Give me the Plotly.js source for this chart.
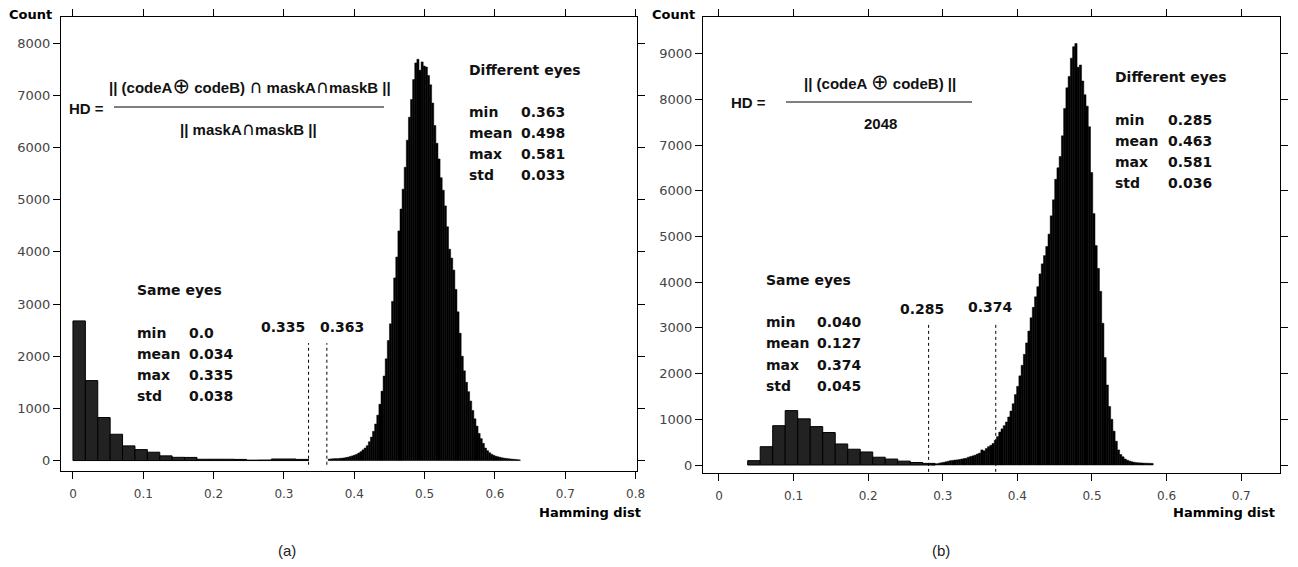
<!DOCTYPE html>
<html>
<head>
<meta charset="utf-8">
<script src="https://cdn.plot.ly/plotly-3.0.1.min.js"></script>
<style>html,body{margin:0;padding:0;background:#fff;}#chart{width:1298px;height:567px;}</style>
</head>
<body>
<div id="chart"></div>
<script>
// ---------------- DATA ----------------
// Panel (a): same eyes histogram (19 bins from 0)
const sameA_start = 0.0;
const sameA_binWidth = 0.01763;
const sameA_counts = [2676, 1532, 824, 504, 281, 210, 160, 90, 62, 60, 25, 25, 25, 22, 8, 10, 30, 30, 22];

// Panel (a): different eyes histogram (fine bins from 0.363)
const diffA_start = 0.363;
const diffA_binWidth = 0.003;
const diffA_counts = [28, 32, 35, 38, 36, 42, 45, 50, 58, 66, 78, 90, 105, 120, 145, 170, 205, 240, 285, 360,
  450, 560, 700, 870, 1080, 1330, 1620, 1950, 2300, 2620, 3050, 3500, 3900, 4400, 4820, 5200, 5620, 6140, 6580, 6920,
  7300, 7620, 7690, 7480, 7640, 7560, 7540, 7380, 7200, 6850, 6420, 6080, 5780, 5420, 5180, 4880, 4480, 4050, 3880, 3650,
  3280, 2850, 2440, 2000, 1720, 1500, 1320, 1140, 960, 800, 660, 520, 420, 330, 240, 190, 150, 120, 100, 82,
  72, 62, 52, 45, 40, 35, 30, 26, 22, 18, 14];

// Panel (b): same eyes histogram (15 bins from 0.0385)
const sameB_start = 0.0385;
const sameB_binWidth = 0.01676;
const sameB_counts = [95, 400, 860, 1190, 1010, 840, 710, 460, 345, 285, 170, 130, 85, 55, 35];

// Panel (b): different eyes histogram (fine bins from 0.285)
const diffB_start = 0.285;
const diffB_binWidth = 0.003;
const diffB_counts = [15, 20, 28, 40, 50, 58, 70, 82, 95, 100, 108, 112, 120, 130, 140, 148, 170, 185, 200, 215,
  240, 260, 330, 310, 360, 400, 430, 470, 540, 620, 720, 790, 860, 940, 1050, 1180, 1340, 1540, 1720, 1950,
  2180, 2420, 2670, 2930, 3220, 3450, 3680, 3900, 4180, 4400, 4580, 4780, 5050, 5450, 5800, 6250, 6500, 6750, 7200, 7800,
  8250, 8500, 8900, 9150, 9220, 8700, 8750, 8400, 8100, 7850, 7400, 6400, 5500, 4800, 4300, 3800, 3100, 2350, 1750, 1280,
  1000, 740, 520, 330, 230, 180, 130, 105, 85, 70, 60, 52, 48, 45, 42, 40, 38, 36, 35];

// Axis ticks
const xTicksA = [0, 0.1, 0.2, 0.3, 0.4, 0.5, 0.6, 0.7, 0.8];
const xTickTextA = ['0', '0.1', '0.2', '0.3', '0.4', '0.5', '0.6', '0.7', '0.8'];
const yTicksA = [0, 1000, 2000, 3000, 4000, 5000, 6000, 7000, 8000];
const xTicksB = [0, 0.1, 0.2, 0.3, 0.4, 0.5, 0.6, 0.7];
const xTickTextB = ['0', '0.1', '0.2', '0.3', '0.4', '0.5', '0.6', '0.7'];
const yTicksB = [0, 1000, 2000, 3000, 4000, 5000, 6000, 7000, 8000, 9000];

// Thresholds (dotted lines) and their labels
const threshA_x = [0.335, 0.361];
const threshA_labels = ['0.335', '0.363'];
const threshB_x = [0.281, 0.371];
const threshB_labels = ['0.285', '0.374'];

// Statistics
const statNames = ['min', 'mean', 'max', 'std'];
const sameA_stats = ['0.0', '0.034', '0.335', '0.038'];
const diffA_stats = ['0.363', '0.498', '0.581', '0.033'];
const sameB_stats = ['0.040', '0.127', '0.374', '0.045'];
const diffB_stats = ['0.285', '0.463', '0.581', '0.036'];

// ---------------- CHART ----------------
const W = 1298, H = 567;
const statFont = {family: 'DejaVu Sans', size: 14, color: '#111', weight: 'bold'};
const formulaFont = {family: 'Liberation Sans, Arial, sans-serif', size: 15, color: '#111', weight: 'bold'};
const OPLUS = '<span style="font-family:DejaVu Sans;font-size:21px;font-weight:normal">\u2295</span>';
const CAP = '<span style="font-family:DejaVu Sans;font-size:18px;font-weight:normal">\u2229</span>';

function histTrace(counts, start, w, xa, ya, fill, lineColor, lineW) {
  return {
    type: 'bar', y: counts, x0: start + w / 2, dx: w, width: w,
    xaxis: xa, yaxis: ya, showlegend: false, hoverinfo: 'skip',
    marker: {color: fill, line: {color: lineColor, width: lineW}}
  };
}

const traces = [
  histTrace(sameA_counts, sameA_start, sameA_binWidth, 'x', 'y', '#222222', '#000000', 1),
  histTrace(diffA_counts, diffA_start, diffA_binWidth, 'x', 'y', '#000000', '#000000', 0.5),
  histTrace(sameB_counts, sameB_start, sameB_binWidth, 'x2', 'y2', '#222222', '#000000', 1),
  histTrace(diffB_counts, diffB_start, diffB_binWidth, 'x2', 'y2', '#000000', '#000000', 0.5)
];

function ann(text, px, py, font, xanchor) {
  return {xref: 'paper', yref: 'paper', x: px / W, y: 1 - py / H, text: text, showarrow: false,
    xanchor: xanchor || 'left', yanchor: 'middle', font: font};
}

const annotations = [];
const shapes = [];

// Count labels
annotations.push(ann('Count', 7, 14, {family: 'DejaVu Sans', size: 13, color: '#000', weight: 'bold'}));
annotations.push(ann('Count', 650, 14, {family: 'DejaVu Sans', size: 13, color: '#000', weight: 'bold'}));
// Hamming dist
annotations.push(ann('Hamming dist', 643, 512, {family: 'DejaVu Sans', size: 13, color: '#000', weight: 'bold'}, 'right'));
annotations.push(ann('Hamming dist', 1277, 512, {family: 'DejaVu Sans', size: 13, color: '#000', weight: 'bold'}, 'right'));
// (a) (b)
annotations.push(ann('(a)', 287, 550, {family: 'Liberation Sans, Arial', size: 15, color: '#222'}, 'center'));
annotations.push(ann('(b)', 941, 550, {family: 'Liberation Sans, Arial', size: 15, color: '#222'}, 'center'));

// Stats blocks
function statsBlock(title, vals, x, xv, yTitle, yRows) {
  annotations.push(ann(title, x, yTitle, statFont));
  statNames.forEach((n, i) => {
    annotations.push(ann(n, x, yRows[i], statFont));
    annotations.push(ann(vals[i], xv, yRows[i], statFont));
  });
}
statsBlock('Different eyes', diffA_stats, 467, 519, 70, [112, 133, 154, 175]);
statsBlock('Same eyes', sameA_stats, 135, 187, 290, [333, 354, 375, 396]);
statsBlock('Different eyes', diffB_stats, 1113, 1166, 77, [120, 141, 162, 183]);
statsBlock('Same eyes', sameB_stats, 764, 815, 280, [322, 343, 365, 386]);

// Threshold lines and labels
threshA_x.forEach((v) => {
  shapes.push({type: 'line', xref: 'x', yref: 'y', x0: v, x1: v, y0: -80, y1: 2250,
    line: {color: '#000', width: 1, dash: 'dot'}});
});
annotations.push(ann(threshA_labels[0], 283, 327, statFont, 'center'));
annotations.push(ann(threshA_labels[1], 342, 327, statFont, 'center'));
threshB_x.forEach((v) => {
  shapes.push({type: 'line', xref: 'x2', yref: 'y2', x0: v, x1: v, y0: -150, y1: 3100,
    line: {color: '#000', width: 1, dash: 'dot'}});
});
annotations.push(ann(threshB_labels[0], 922, 309, statFont, 'center'));
annotations.push(ann(threshB_labels[1], 990, 307, statFont, 'center'));

// Formulas
annotations.push(ann('HD =', 67, 108, formulaFont));
annotations.push(ann('|| (codeA' + OPLUS + ' codeB) ' + CAP + ' maskA' + CAP + 'maskB ||', 250, 86, formulaFont, 'center'));
annotations.push(ann('|| maskA' + CAP + 'maskB ||', 248, 129, formulaFont, 'center'));
shapes.push({type: 'line', xref: 'paper', yref: 'paper', x0: 114 / W, x1: 384 / W, y0: 1 - 107 / H, y1: 1 - 107 / H,
  line: {color: '#000', width: 1}});

annotations.push(ann('HD =', 729, 102, formulaFont));
annotations.push(ann('|| (codeA ' + OPLUS + ' codeB) ||', 880, 82, formulaFont, 'center'));
annotations.push(ann('2048', 880, 123, formulaFont, 'center'));
shapes.push({type: 'line', xref: 'paper', yref: 'paper', x0: 786 / W, x1: 972 / W, y0: 1 - 102 / H, y1: 1 - 102 / H,
  line: {color: '#000', width: 1}});

const tickFont = {family: 'DejaVu Sans', size: 12, color: '#444'};
const axisCommon = {
  showline: true, linecolor: '#000', linewidth: 1, mirror: 'allticks',
  ticks: 'outside', ticklen: 7, tickcolor: '#000', tickwidth: 1,
  showgrid: false, zeroline: false, tickfont: tickFont, fixedrange: true
};

const layout = {
  width: W, height: H,
  margin: {l: 0, r: 0, t: 0, b: 0},
  paper_bgcolor: '#fff', plot_bgcolor: '#fff',
  barmode: 'overlay', bargap: 0,
  showlegend: false,
  xaxis: Object.assign({}, axisCommon, {domain: [61 / W, 637 / W], range: [-0.017, 0.802], anchor: 'y',
    tickmode: 'array', tickvals: xTicksA, ticktext: xTickTextA, ticklabelstandoff: 5}),
  yaxis: Object.assign({}, axisCommon, {domain: [1 - 471 / H, 1 - 17 / H], range: [-200, 8500], anchor: 'x',
    tickmode: 'array', tickvals: yTicksA, ticktext: yTicksA.map(String), tickfont: {family: 'DejaVu Sans', size: 13, color: '#444'}}),
  xaxis2: Object.assign({}, axisCommon, {domain: [703 / W, 1280 / W], range: [-0.0214, 0.752], anchor: 'y2',
    tickmode: 'array', tickvals: xTicksB, ticktext: xTickTextB, ticklabelstandoff: 5}),
  yaxis2: Object.assign({}, axisCommon, {domain: [1 - 473 / H, 1 - 17 / H], range: [-175, 9800], anchor: 'x2',
    tickmode: 'array', tickvals: yTicksB, ticktext: yTicksB.map(String), tickfont: {family: 'DejaVu Sans', size: 13, color: '#444'}}),
  annotations: annotations,
  shapes: shapes
};

Plotly.newPlot('chart', traces, layout, {displayModeBar: false, staticPlot: true});
</script>
</body>
</html>
